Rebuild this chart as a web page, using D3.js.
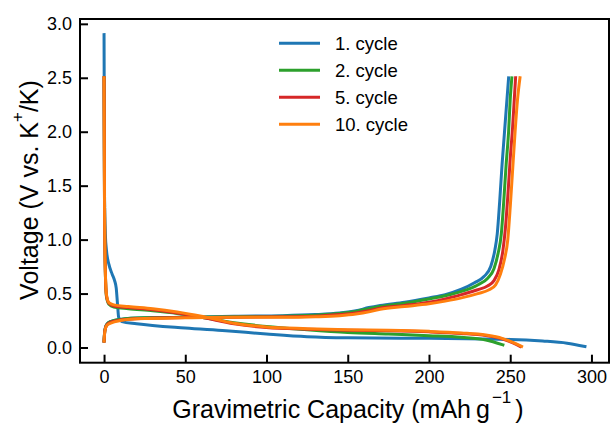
<!DOCTYPE html>
<html>
<head>
<meta charset="utf-8">
<script src="https://cdn.jsdelivr.net/npm/d3@7"></script>
<style>
body{margin:0;background:#fff;}
text{font-family:"Liberation Sans",Arial,sans-serif;fill:#000;}
</style>
</head>
<body>
<div id="chart"></div>
<script>
// ---- data: [capacity mAh/g, voltage V] ----
const cycles = ["1. cycle", "2. cycle", "5. cycle", "10. cycle"];
const colors = ["#1f77b4", "#2ca02c", "#d62728", "#ff7f0e"];
const xTicks = [0, 50, 100, 150, 200, 250, 300];
const yTicks = [0, 0.5, 1.0, 1.5, 2.0, 2.5, 3.0];

const cycle1Discharge = [[0,2.9],[0.3,1.4],[0.8,1.05],[1.5,0.9],[3,0.77],[5,0.68],[6.5,0.62],[7.5,0.55],[8.3,0.4],[9,0.28],[11,0.24],[20,0.22],[50,0.18],[75,0.155],[100,0.125],[125,0.1],[150,0.09],[200,0.085],[250,0.075],[270,0.06],[285,0.04],[296,0.01]];
const cycle1Charge = [[0,0.06],[0.5,0.16],[1.5,0.21],[4,0.24],[10,0.26],[25,0.275],[50,0.28],[80,0.29],[110,0.295],[130,0.305],[145,0.32],[155,0.34],[163,0.37],[170,0.39],[185,0.42],[200,0.46],[210,0.49],[220,0.54],[228,0.6],[234,0.66],[238,0.75],[240.5,0.9],[242,1.05],[243.5,1.35],[245,1.7],[246.5,2.0],[248,2.3],[249,2.5]];

const cycle2Discharge = [[0,2.5],[0.3,1.3],[0.8,0.7],[1.5,0.47],[3,0.4],[6,0.375],[15,0.36],[30,0.34],[45,0.315],[60,0.28],[80,0.23],[100,0.195],[125,0.165],[150,0.14],[175,0.125],[200,0.11],[220,0.095],[235,0.07],[245.5,0.025]];
const cycle2Charge = [[0,0.06],[0.5,0.16],[1.5,0.21],[4,0.24],[10,0.26],[25,0.275],[50,0.28],[80,0.285],[110,0.29],[130,0.3],[145,0.315],[155,0.335],[163,0.36],[170,0.38],[185,0.41],[200,0.45],[210,0.48],[220,0.52],[230,0.58],[236,0.64],[240,0.73],[242.5,0.87],[244.5,1.05],[246,1.35],[247.5,1.7],[249,2.0],[250,2.3],[251,2.5]];

const cycle5Discharge = [[0,2.5],[0.3,1.3],[0.8,0.7],[1.5,0.48],[3,0.41],[6,0.385],[15,0.37],[30,0.35],[45,0.32],[60,0.28],[80,0.22],[100,0.185],[125,0.17],[150,0.16],[175,0.155],[200,0.145],[220,0.13],[235,0.11],[245,0.08],[252,0.04],[256,0.01]];
const cycle5Charge = [[0,0.06],[0.5,0.155],[1.5,0.205],[4,0.235],[10,0.255],[25,0.27],[50,0.278],[80,0.28],[110,0.285],[130,0.29],[145,0.305],[155,0.32],[163,0.34],[170,0.365],[185,0.39],[200,0.42],[210,0.45],[220,0.49],[230,0.535],[236,0.57],[240,0.62],[243,0.72],[245.5,0.9],[247,1.1],[248.5,1.4],[250,1.75],[251.5,2.05],[252.5,2.3],[253.3,2.5]];

const cycle10Discharge = [[0,2.5],[0.3,1.3],[0.8,0.7],[1.5,0.49],[3,0.415],[6,0.395],[15,0.38],[30,0.36],[45,0.33],[60,0.29],[80,0.225],[100,0.19],[125,0.175],[150,0.165],[175,0.16],[200,0.15],[220,0.135],[235,0.115],[245,0.085],[252,0.045],[257,0.01]];
const cycle10Charge = [[0,0.06],[0.5,0.15],[1.5,0.2],[4,0.225],[10,0.25],[25,0.268],[50,0.275],[80,0.28],[110,0.28],[130,0.285],[145,0.295],[155,0.31],[163,0.33],[170,0.355],[185,0.38],[200,0.405],[210,0.43],[220,0.46],[230,0.5],[237,0.535],[241,0.58],[244,0.68],[246.5,0.82],[248.5,1.0],[250,1.3],[251.5,1.65],[253,2.0],[254.5,2.3],[256,2.5]];

const curves = [
	[cycle1Discharge, cycle1Charge],
	[cycle2Discharge, cycle2Charge],
	[cycle5Discharge, cycle5Charge],
	[cycle10Discharge, cycle10Charge]
];

// ---- layout ----
const width = 611, height = 428;
const margin = {left: 80, right: 2, top: 19, bottom: 65.3};

const svg = d3.select("#chart").append("svg")
	.attr("width", width)
	.attr("height", height);

const x = d3.scaleLinear()
	.domain([-14.8, 310.8])
	.range([margin.left, width - margin.right]);

const y = d3.scaleLinear()
	.domain([-0.1408, 3.0448])
	.range([height - margin.bottom, margin.top]);

const line = d3.line()
	.curve(d3.curveMonotoneX)
	.x(d => x(d[0]))
	.y(d => y(d[1]));

// curves, cycle 1 first so the 10. cycle ends up on top
curves.forEach((pair, i) => {
	svg.selectAll(null)
		.data(pair)
		.enter().append("path")
		.attr("d", line)
		.attr("fill", "none")
		.attr("stroke", colors[i])
		.attr("stroke-width", 3)
		.attr("stroke-linecap", "square")
		.attr("stroke-linejoin", "round");
});

// axes with inward ticks
const xAxis = d3.axisBottom(x)
	.tickValues(xTicks)
	.tickFormat(d3.format("d"))
	.tickSizeInner(-8)
	.tickSizeOuter(0)
	.tickPadding(8);

const yAxis = d3.axisLeft(y)
	.tickValues(yTicks)
	.tickFormat(d3.format(".1f"))
	.tickSizeInner(-8)
	.tickSizeOuter(0)
	.tickPadding(8);

const gx = svg.append("g")
	.attr("transform", "translate(0," + (height - margin.bottom) + ")")
	.call(xAxis);
const gy = svg.append("g")
	.attr("transform", "translate(" + margin.left + ",0)")
	.call(yAxis);

[gx, gy].forEach(g => {
	g.select(".domain").remove();
	g.selectAll(".tick line").attr("stroke", "#000").attr("stroke-width", 2);
	g.selectAll(".tick text").style("font-size", "18px");
});

// frame
svg.append("rect")
	.attr("x", margin.left)
	.attr("y", margin.top)
	.attr("width", width - margin.left - margin.right)
	.attr("height", height - margin.top - margin.bottom)
	.attr("fill", "none")
	.attr("stroke", "#000")
	.attr("stroke-width", 2);

// axis labels
const xLabel = svg.append("text")
	.attr("x", 348)
	.attr("y", 418)
	.attr("text-anchor", "middle")
	.style("font-size", "25px");
xLabel.append("tspan").text("Gravimetric Capacity (mAh\u2009g");
xLabel.append("tspan").attr("dy", -15).attr("dx", 2).style("font-size", "17px").text("\u22121");
xLabel.append("tspan").attr("dy", 15).attr("dx", 4).text(")");

const yLabel = svg.append("text")
	.attr("transform", "translate(38,190) rotate(-90)")
	.attr("text-anchor", "middle")
	.style("font-size", "25px");
yLabel.append("tspan").text("Voltage (V vs. K");
yLabel.append("tspan").attr("dy", -15).style("font-size", "17px").text("+");
yLabel.append("tspan").attr("dy", 15).text("/K)");

// legend
const legend = svg.append("g")
	.selectAll("g")
	.data(cycles)
	.enter().append("g")
	.attr("transform", (d, i) => "translate(279," + (43.3 + i * 27) + ")");

legend.append("line")
	.attr("x1", 0)
	.attr("x2", 41)
	.attr("stroke", (d, i) => colors[i])
	.attr("stroke-width", 3);

legend.append("text")
	.attr("x", 56)
	.attr("dy", "0.35em")
	.style("font-size", "18.5px")
	.text(d => d);
</script>
</body>
</html>
